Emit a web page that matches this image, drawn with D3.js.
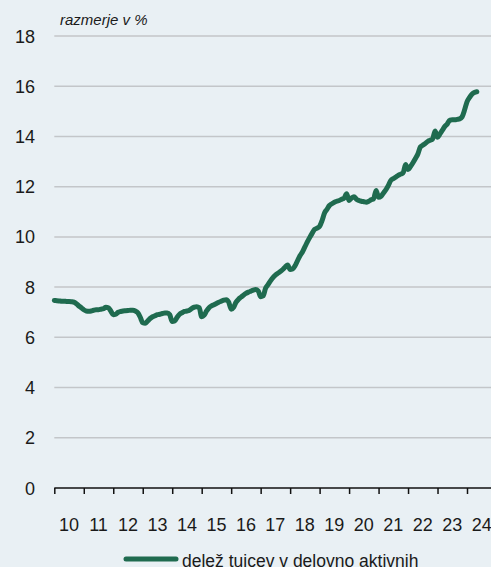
<!DOCTYPE html>
<html lang="sl">
<head>
<meta charset="utf-8">
<title>Delež tujcev v delovno aktivnih</title>
<script src="https://d3js.org/d3.v7.min.js"></script>
<style>
  html, body { margin: 0; padding: 0; background: #e9f0f4; }
  svg { display: block; font-family: "Liberation Sans", Arial, sans-serif; }
</style>
</head>
<body>
<script>
// monthly values, Jan 2010 .. May 2024
var startYear = 2010;
var share = [
  7.47, 7.46, 7.45, 7.44, 7.44, 7.43, 7.43, 7.42, 7.40, 7.34, 7.25, 7.18, // 2010
  7.10, 7.05, 7.04, 7.05, 7.08, 7.10, 7.10, 7.12, 7.14, 7.20, 7.18, 7.05, // 2011
  6.90, 6.92, 7.00, 7.03, 7.05, 7.06, 7.07, 7.08, 7.08, 7.05, 6.98, 6.80, // 2012
  6.58, 6.56, 6.65, 6.75, 6.82, 6.86, 6.90, 6.92, 6.95, 6.97, 6.97, 6.90, // 2013
  6.63, 6.65, 6.80, 6.92, 6.98, 7.03, 7.05, 7.08, 7.15, 7.20, 7.22, 7.18, // 2014
  6.82, 6.88, 7.05, 7.18, 7.25, 7.30, 7.35, 7.40, 7.44, 7.48, 7.50, 7.40, // 2015
  7.12, 7.20, 7.40, 7.52, 7.60, 7.68, 7.75, 7.80, 7.84, 7.88, 7.90, 7.85, // 2016
  7.62, 7.65, 7.95, 8.10, 8.25, 8.38, 8.48, 8.55, 8.62, 8.70, 8.80, 8.88, // 2017
  8.70, 8.72, 8.85, 9.05, 9.25, 9.40, 9.60, 9.80, 9.98, 10.15, 10.30, 10.35, // 2018
  10.42, 10.65, 10.95, 11.10, 11.25, 11.32, 11.38, 11.42, 11.45, 11.50, 11.55, 11.72, // 2019
  11.45, 11.55, 11.60, 11.50, 11.45, 11.42, 11.40, 11.38, 11.42, 11.48, 11.52, 11.85, // 2020
  11.58, 11.62, 11.75, 11.88, 12.05, 12.25, 12.32, 12.38, 12.45, 12.50, 12.55, 12.88, // 2021
  12.68, 12.80, 12.95, 13.12, 13.30, 13.58, 13.65, 13.72, 13.80, 13.85, 13.90, 14.22, // 2022
  13.97, 14.10, 14.25, 14.40, 14.50, 14.65, 14.66, 14.66, 14.68, 14.70, 14.78, 15.05, // 2023
  15.38, 15.55, 15.68, 15.75, 15.78 // 2024
];
var yearLabels = ["10","11","12","13","14","15","16","17","18","19","20","21","22","23","24"];
var yTicks = [0, 2, 4, 6, 8, 10, 12, 14, 16, 18];
var unitLabel = "razmerje v %";
var seriesName = "delež tujcev v delovno aktivnih";

var width = 491, height = 567;
var plotLeft = 54.3, plotRight = 467, plotTop = 36, plotBottom = 488;

var svg = d3.select("body").append("svg")
  .attr("width", width)
  .attr("height", height);

var x = d3.scaleLinear().domain([2010, 2024]).range([plotLeft, plotRight]);
var y = d3.scaleLinear().domain([0, 18]).range([plotBottom, plotTop]);

// gridlines
svg.append("g").selectAll("line")
  .data(yTicks.filter(function(d) { return d > 0; }))
  .join("line")
  .attr("x1", plotLeft).attr("x2", width)
  .attr("y1", function(d) { return y(d); })
  .attr("y2", function(d) { return y(d); })
  .attr("stroke", "#c3c6c9")
  .attr("stroke-width", 1.5);

// y labels
svg.append("g").selectAll("text")
  .data(yTicks)
  .join("text")
  .attr("x", 35)
  .attr("y", function(d) { return y(d) + 6.5; })
  .attr("text-anchor", "end")
  .attr("font-size", 18)
  .attr("fill", "#1a1a1a")
  .text(function(d) { return d; });

// x axis
var xAxis = d3.axisBottom(x)
  .tickValues(d3.range(2010, 2025))
  .tickSize(6)
  .tickFormat("");
var gx = svg.append("g")
  .attr("transform", "translate(0," + plotBottom + ")")
  .call(xAxis);
gx.select(".domain").attr("d", "M" + plotLeft + ",0H" + width).attr("stroke", "#111").attr("stroke-width", 1.5);
gx.selectAll(".tick line").attr("stroke", "#111").attr("stroke-width", 1.5);

svg.append("g").selectAll("text")
  .data(yearLabels)
  .join("text")
  .attr("x", function(d, i) { return x(2010 + i + 0.5); })
  .attr("y", 531)
  .attr("text-anchor", "middle")
  .attr("font-size", 18)
  .attr("fill", "#1a1a1a")
  .text(function(d) { return d; });

// unit label
svg.append("text")
  .attr("x", 60)
  .attr("y", 25)
  .attr("font-size", 15)
  .attr("font-style", "italic")
  .attr("fill", "#1a1a1a")
  .text(unitLabel);

// line
var line = d3.line()
  .x(function(d, i) { return x(startYear + i / 12); })
  .y(function(d) { return y(d); })
  .curve(d3.curveMonotoneX);

svg.append("path")
  .datum(share)
  .attr("d", line)
  .attr("fill", "none")
  .attr("stroke", "#1f6b4f")
  .attr("stroke-width", 5)
  .attr("stroke-linecap", "round")
  .attr("stroke-linejoin", "round");

// legend
var lg = svg.append("g");
lg.append("line")
  .attr("x1", 126).attr("x2", 176)
  .attr("y1", 559).attr("y2", 559)
  .attr("stroke", "#1f6b4f")
  .attr("stroke-width", 5)
  .attr("stroke-linecap", "round");
lg.append("text")
  .attr("x", 182)
  .attr("y", 567)
  .attr("font-size", 17.5)
  .attr("fill", "#1a1a1a")
  .text(seriesName);
</script>
</body>
</html>
